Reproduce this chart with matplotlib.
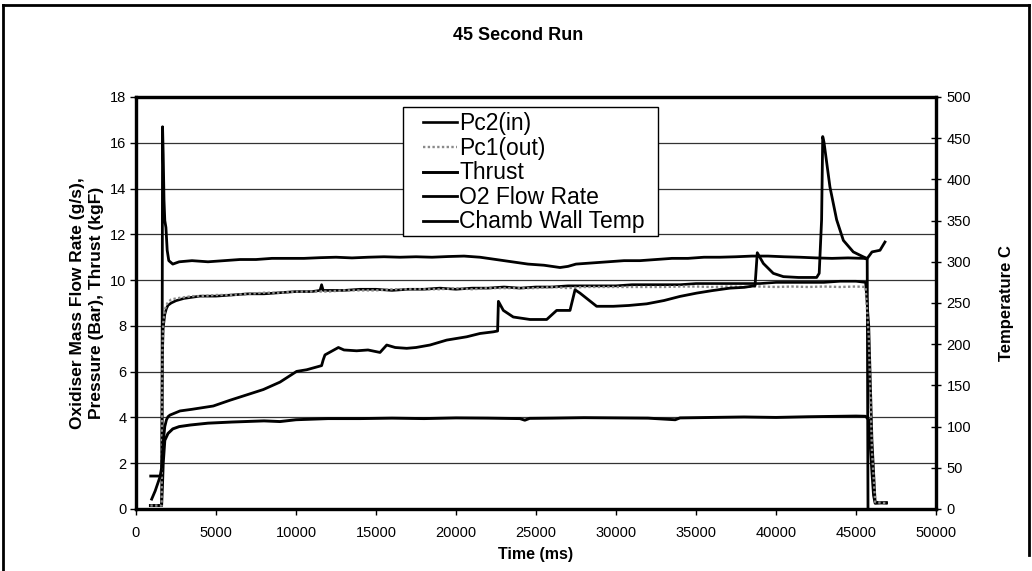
import matplotlib
matplotlib.use("Agg")
import matplotlib.pyplot as plt
from matplotlib.lines import Line2D
from matplotlib.patches import Rectangle

plt.rcParams['font.family'] = ['Liberation Sans', 'DejaVu Sans']

# ---------------- data ----------------
pc2_t = [900, 1600, 1650, 1700, 1800, 1900, 2000, 2200, 2500, 3000,
         3500, 4000, 5000, 6000, 7000, 8000, 9000, 10000, 11000, 11500,
         11600, 11700, 12000, 13000, 14000, 15000, 16000, 17000, 18000, 19000,
         20000, 21000, 22000, 23000, 24000, 25000, 26000, 27000, 28000, 29000,
         30000, 31000, 32000, 33000, 34000, 35000, 36000, 37000, 38000, 39000,
         40000, 41000, 42000, 43000, 44000, 45000, 45600, 45800, 46000, 46200,
         46900]
pc2_v = [0.15, 0.15, 6.7, 7.9, 8.5, 8.75, 8.9, 9.0, 9.1, 9.2,
         9.25, 9.3, 9.3, 9.35, 9.4, 9.4, 9.45, 9.5, 9.5, 9.55,
         9.8, 9.55, 9.55, 9.55, 9.6, 9.6, 9.55, 9.6, 9.6, 9.65,
         9.6, 9.65, 9.65, 9.7, 9.65, 9.7, 9.7, 9.75, 9.75, 9.75,
         9.75, 9.8, 9.8, 9.8, 9.8, 9.85, 9.85, 9.85, 9.85, 9.85,
         9.9, 9.9, 9.9, 9.9, 9.95, 9.95, 9.9, 8.0, 3.0, 0.3,
         0.25]

pc1_t = [900, 1600, 1650, 1700, 1800, 1900, 2000, 2200, 2500, 3000,
         3500, 4000, 5000, 6000, 7000, 8000, 9000, 10000, 11000, 12000,
         13000, 14000, 15000, 16000, 17000, 18000, 19000, 20000, 21000, 22000,
         23000, 24000, 25000, 26000, 27000, 28000, 29000, 30000, 31000, 32000,
         33000, 34000, 35000, 36000, 37000, 38000, 39000, 40000, 41000, 42000,
         43000, 44000, 45000, 45600, 45800, 46000, 46200, 46900]
pc1_v = [0.15, 0.15, 6.9, 8.1, 8.7, 8.9, 9.05, 9.15, 9.2, 9.25,
         9.3, 9.3, 9.35, 9.35, 9.4, 9.45, 9.45, 9.5, 9.5, 9.5,
         9.55, 9.55, 9.55, 9.6, 9.6, 9.6, 9.6, 9.65, 9.6, 9.65,
         9.65, 9.65, 9.65, 9.7, 9.65, 9.7, 9.7, 9.7, 9.7, 9.7,
         9.7, 9.72, 9.72, 9.7, 9.72, 9.7, 9.72, 9.7, 9.72, 9.7,
         9.72, 9.7, 9.72, 9.7, 7.5, 2.5, 0.3, 0.25]

thr_t = [900, 1600, 1650, 1700, 1800, 2000, 2300, 2700, 3400, 4500,
         6000, 8000, 9000, 10000, 12000, 14000, 16000, 18000, 20000, 22000,
         24000, 24300, 24600, 26000, 28000, 30000, 32000, 33700, 34000, 36000,
         38000, 40000, 42000, 44000, 45000, 45600, 45800, 45900, 46000, 46100,
         46200, 46900]
thr_v = [0.15, 0.15, 1.0, 2.0, 3.0, 3.3, 3.5, 3.6, 3.67, 3.75,
         3.8, 3.85, 3.82, 3.9, 3.95, 3.95, 3.97, 3.95, 3.98, 3.97,
         3.95, 3.88, 3.96, 3.97, 3.99, 3.98, 3.97, 3.9, 3.98, 4.0,
         4.02, 4.0, 4.03, 4.05, 4.06, 4.05, 3.9, 2.7, 1.6, 0.6,
         0.25, 0.28]

o2_t = [920, 1500, 1620, 1660, 1700, 1750, 1800, 1870, 1950, 2050,
        2300, 2700, 3500, 4500, 5500, 6500, 7500, 8500, 9500, 10500,
        11500, 12500, 13500, 14500, 15500, 16500, 17500, 18500, 19500, 20500,
        21500, 22500, 23500, 24500, 25500, 26500, 27000, 27500, 28500, 29500,
        30500, 31500, 32500, 33500, 34500, 35500, 36500, 37500, 38500, 39500,
        40500, 41500, 42500, 43500, 44500, 45500, 45700, 45750]
o2_v = [1.44, 1.44, 1.5, 16.7, 15.5, 13.5, 12.6, 12.3, 11.3, 10.85,
        10.7, 10.8, 10.85, 10.8, 10.85, 10.9, 10.9, 10.95, 10.95, 10.95,
        10.98, 11.0, 10.97, 11.0, 11.02, 11.0, 11.02, 11.0, 11.03, 11.05,
        11.0, 10.9, 10.8, 10.7, 10.65, 10.55, 10.6, 10.7, 10.75, 10.8,
        10.85, 10.85, 10.9, 10.95, 10.95, 11.0, 11.0, 11.02, 11.05, 11.05,
        11.02, 11.0, 10.97, 10.95, 10.97, 10.95, 10.92, 0.0]

temp_t = [980, 1200, 1500, 1600, 1700, 1800, 1900, 2000, 2125, 2750,
          3500, 4830, 5875, 7000, 7960, 9000, 10040, 10670, 11600, 11700,
          11810, 12650, 13000, 13790, 14500, 15250, 15670, 16200, 16920, 17500,
          18375, 19420, 20670, 21500, 22330, 22600, 22650, 22960, 23580, 24625,
          25670, 26290, 27125, 27440, 27750, 28790, 29830, 30800, 31920, 33000,
          34000, 35040, 36000, 37100, 38000, 38690, 38830, 39210, 39830, 40460,
          41400, 42540, 42700, 42850, 42920, 43000, 43370, 43790, 44210, 44830,
          45460, 45700, 46000, 46500, 46810]
temp_v = [12, 22, 39, 50, 81, 100, 108, 112, 114, 119,
          121, 125, 132, 139, 145, 154, 167, 169, 174, 181,
          187, 196, 193, 192, 193, 190, 199, 196, 195, 196,
          199, 205, 209, 213, 215, 216, 252, 241, 233, 230,
          230, 241, 241, 266, 262, 246, 246, 247, 249, 253,
          258, 262, 265, 268, 269, 271, 311, 298, 286, 282,
          281, 281, 286, 351, 452, 445, 391, 351, 326, 312,
          306, 304, 312, 314, 324]

series_labels = ['Pc2(in)', 'Pc1(out)', 'Thrust', 'O2 Flow Rate', 'Chamb Wall Temp']
x_ticks = list(range(0, 50001, 5000))
y_ticks = list(range(0, 19, 2))
y2_ticks = list(range(0, 501, 50))

# ---------------- figure ----------------
W, H = 1032, 571
fig = plt.figure(figsize=(W / 100, H / 100), dpi=100)
fig.patch.set_facecolor('white')

ax = fig.add_axes([136 / W, 62 / H, 800 / W, 412 / H])
ax2 = ax.twinx()

l1, = ax.plot(pc2_t, pc2_v, color='black', lw=1.9, label=series_labels[0], zorder=3)
l2, = ax.plot(pc1_t, pc1_v, color='#8a8a8a', lw=1.7, ls=(0, (1, 1)), label=series_labels[1], zorder=4)
l3, = ax.plot(thr_t, thr_v, color='black', lw=2.1, label=series_labels[2], zorder=3)
l4, = ax.plot(o2_t, o2_v, color='black', lw=2.0, label=series_labels[3], zorder=3)
l5, = ax2.plot(temp_t, temp_v, color='black', lw=2.0, label=series_labels[4], zorder=3)

ax.set_xlim(0, 50000)
ax.set_ylim(0, 18)
ax2.set_ylim(0, 500)
ax.set_xticks(x_ticks)
ax.set_xticklabels([str(v) for v in x_ticks])
ax.set_yticks(y_ticks)
ax2.set_yticks(y2_ticks)

ax.set_axisbelow(True)
ax.grid(axis='y', color='#333333', lw=0.9)
ax.grid(axis='x', visible=False)

for a in (ax, ax2):
    for s in a.spines.values():
        s.set_linewidth(2.3)
        s.set_color('black')

ax.tick_params(axis='y', direction='out', length=4, width=1, labelsize=10.5, pad=3)
ax.tick_params(axis='x', direction='out', length=4, width=1, labelsize=10.5, pad=8)
ax2.tick_params(axis='y', direction='inout', length=7, width=1, labelsize=10.5, pad=4)

ax.set_xlabel('Time (ms)', fontsize=11.5, fontweight='bold', labelpad=5)
ax.set_ylabel('Oxidiser Mass Flow Rate (g/s),\nPressure (Bar), Thrust (kgF)',
              fontsize=12.5, fontweight='bold', labelpad=4, linespacing=1.4)
ax2.set_ylabel('Temperature C', fontsize=12, fontweight='bold', labelpad=20)

fig.text(0.502, 1 - 36 / H, '45 Second Run', fontsize=13, fontweight='bold',
         ha='center', va='center')

# legend box (white, black edge) and legend entries drawn on top of the plot
fig.add_artist(Rectangle((403 / W, 1 - 236 / H), 255 / W, 129 / H,
                         transform=fig.transFigure, facecolor='white',
                         edgecolor='black', lw=1.0, zorder=2))
leg = fig.legend(handles=[l1, l2, l3, l4, l5], loc='upper left',
                 bbox_to_anchor=(423 / W, 1 - 112 / H),
                 borderaxespad=0, fontsize=16.5, frameon=False,
                 handlelength=1.5, handletextpad=0.08, labelspacing=0.07,
                 borderpad=0.0, handleheight=0.6)
leg.set_zorder(5)

# outer border of the chart area
bx0, bx1 = 3 / W, 1029 / W
by_top = 1 - 5 / H
fig.add_artist(Line2D([bx0, bx1], [by_top, by_top], transform=fig.transFigure, color='black', lw=2))
fig.add_artist(Line2D([bx0, bx0], [0, by_top], transform=fig.transFigure, color='black', lw=2))
fig.add_artist(Line2D([bx1, bx1], [16 / H, by_top], transform=fig.transFigure, color='black', lw=2))

fig.savefig('out.png', dpi=100)
